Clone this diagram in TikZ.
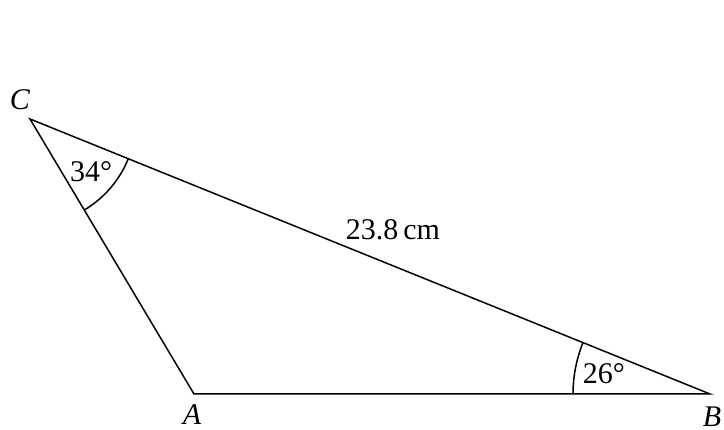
\documentclass[tikz,border=0pt]{standalone}
\usepackage{fontspec}
\setmainfont{Liberation Serif}
\usetikzlibrary{angles,quotes}

\begin{document}
\begin{tikzpicture}[x=0.4pt, y=0.4pt, line width=0.6pt,
    font=\fontsize{12}{14}\selectfont,
    vlabel/.style={font=\fontsize{12}{14}\selectfont\itshape}]
    \useasboundingbox (0,0) rectangle (724,430);

    % vertices
    \coordinate (C) at (30,311);
    \coordinate (A) at (194,36);
    \coordinate (B) at (710,36);

    \draw (C) -- (A) -- (B) -- cycle;

    % angulos marcados
    \pic[draw, angle radius=42.4pt, angle eccentricity=0.76, "34°"] {angle = A--C--B};
    \pic[draw, angle radius=54.8pt, angle eccentricity=0.79, "26°"] {angle = C--B--A};

    \node[vlabel] (lC) at (20,330) {C};
    \node[vlabel] (lA) at (192,15) {A};
    \node[vlabel] (lB) at (712,13) {B};
    \node (len) at (393,200) {23.8\,cm};
\end{tikzpicture}
\end{document}
